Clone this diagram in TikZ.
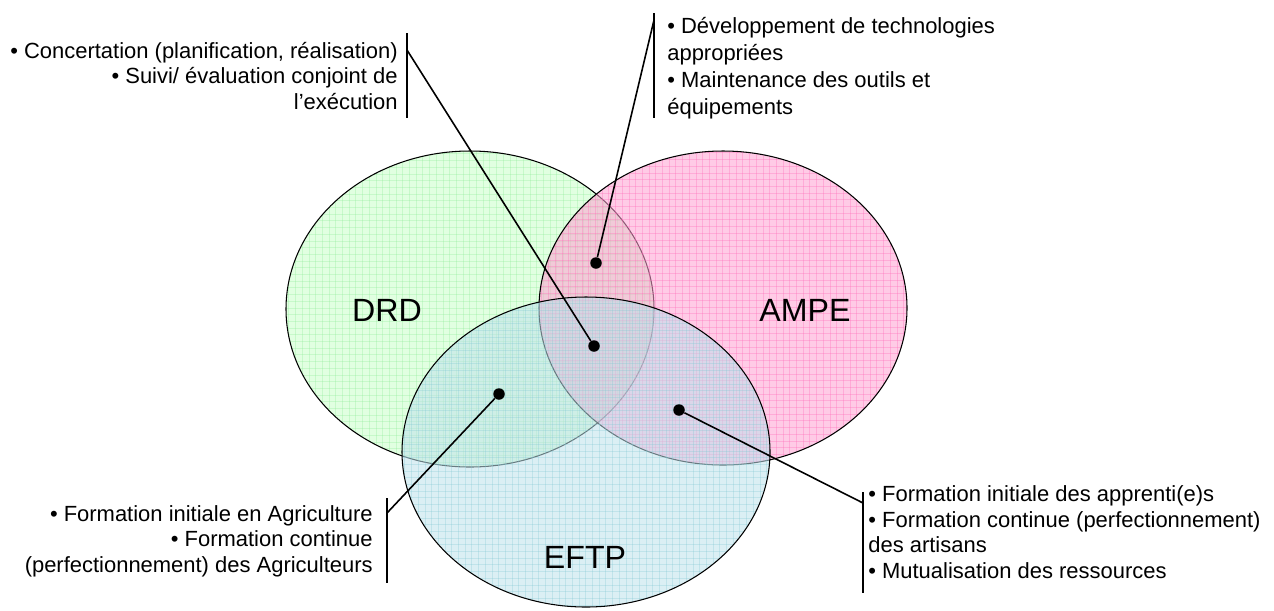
\documentclass[tikz,border=0pt]{standalone}
\usepackage{fontspec}
\setmainfont{Liberation Sans}
\usetikzlibrary{positioning}

\definecolor{drdgreen}{RGB}{200,255,200}
\definecolor{drdgrid}{RGB}{140,235,150}
\definecolor{ampepink}{RGB}{255,160,210}
\definecolor{ampegrid}{RGB}{255,100,180}
\definecolor{eftpblue}{RGB}{190,225,235}
\definecolor{eftpgrid}{RGB}{130,200,210}

\newcommand{\vennset}[5]% x, y, y radius, fill, grid
{\begin{scope}
	\fill [#4,fill opacity=.55] (#1,#2) ellipse [x radius=184,y radius=#3];
	\begin{scope}
	\clip (#1,#2) ellipse [x radius=184,y radius=#3];
	\foreach \g in {0,...,56}
		{\draw [#5,draw opacity=.3,line width=.3pt] (\g*6.7+#1-188,#2-162) -- ++(0,324);
		};
	\foreach \g in {0,...,49}
		{\draw [#5,draw opacity=.3,line width=.3pt] (#1-190,\g*6.7+#2-162) -- ++(380,0);
		};
	\end{scope}
	\draw [line width=.6pt] (#1,#2) ellipse [x radius=184,y radius=#3];
	\end{scope}
}

\begin{document}
\begin{tikzpicture}[x=0.02cm,y=-0.02cm,
	dot/.style={circle,fill=black,inner sep=0pt,minimum size=2.3mm},
	note/.style={inner sep=0pt,font=\fontsize{12.5}{14.5}\selectfont},
	biglabel/.style={inner sep=0pt,font=\fontsize{18.3}{22}\selectfont},
	bar/.style={line width=.75pt},
	leader/.style={line width=.9pt}]
	\useasboundingbox (0,0) rectangle (1274,610);
	\vennset{470}{309}{158}{drdgreen}{drdgrid}
	\vennset{723}{308}{157}{ampepink}{ampegrid}
	\vennset{586}{452}{155}{eftpblue}{eftpgrid}
	\node [biglabel] (drd) at (387,310) {DRD};
	\node [biglabel] (ampe) at (805,310) {AMPE};
	\node [biglabel] (eftp) at (585,557) {EFTP};
	% dots in the overlaps
	\node [dot] (drdampe) at (596,263) {};
	\node [dot] (alltrois) at (594,346) {};
	\node [dot] (drdeftp) at (499,394) {};
	\node [dot] (ampeeftp) at (679,410) {};
	% notes
	\node [note,anchor=east,align=right] (concert) at (398,76) {• Concertation (planification, réalisation)\\• Suivi/ évaluation conjoint de\\l’exécution};
	\node [note,anchor=west,align=left,font=\fontsize{12.5}{15.3}\selectfont] (techno) at (667,68) {• Développement de technologies\\appropriées\\• Maintenance des outils et\\équipements};
	\node [note,anchor=east,align=right] (agri) at (373,541) {• Formation initiale en Agriculture\\• Formation continue\\(perfectionnement) des Agriculteurs};
	\node [note,anchor=west,align=left] (artisans) at (868,532) {• Formation initiale des apprenti(e)s\\• Formation continue (perfectionnement)\\des artisans\\• Mutualisation des ressources};
	% bars beside the notes
	\coordinate (concerttop) at (407,33); \coordinate (concertbot) at (407,118); \coordinate (concertend) at (407,50);
	\coordinate (technotop) at (654,13); \coordinate (technobot) at (654,118); \coordinate (technoend) at (654,20);
	\coordinate (agritop) at (387,498); \coordinate (agribot) at (387,583); \coordinate (agriend) at (387,513);
	\coordinate (artisanstop) at (863,492); \coordinate (artisansbot) at (863,593); \coordinate (artisansend) at (863,503);
	\foreach \n in {concert,techno,agri,artisans}
		{\draw [bar] (\n top) -- (\n bot);
		};
	\draw [leader] (alltrois) -- (concertend);
	\draw [leader] (drdampe) -- (technoend);
	\draw [leader] (drdeftp) -- (agriend);
	\draw [leader] (ampeeftp) -- (artisansend);
\end{tikzpicture}
\end{document}
